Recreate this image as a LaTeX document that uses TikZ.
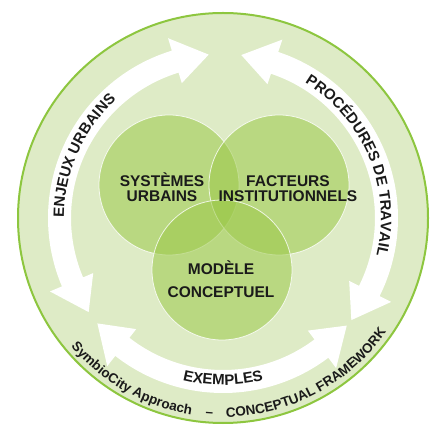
\documentclass[tikz,border=0pt]{standalone}
\usepackage{fontspec}
\setmainfont{Liberation Sans}
\usetikzlibrary{decorations.text}
\definecolor{ringfill}{HTML}{DEEBC6}
\definecolor{ringline}{HTML}{8DC63F}
\definecolor{venn}{HTML}{9CC94A}
\definecolor{ink}{HTML}{1A1A1A}
\tikzset{
  vennc/.style={circle, minimum size=140pt, inner sep=0pt, fill=venn, fill opacity=0.55,
    draw=white, draw opacity=0.8, line width=0.8pt},
  lbl/.style={anchor=base, text=ink, inner sep=0pt, font=\bfseries\fontsize{15.5}{15.5}\selectfont},
  bandtext/.style={decorate, decoration={text along path, text align=center, text={#1}}},
}
\newcommand{\ringarrow}[2]{%
  \fill[white] ({#1}:164pt) -- ({#1-12}:188pt) -- ({#1-12}:175pt)
    arc[start angle={#1-12}, end angle={#2+12}, radius=175pt]
    -- ({#2+12}:188pt) -- ({#2}:164pt) -- ({#2+12}:141pt) -- ({#2+12}:152pt)
    arc[start angle={#2+12}, end angle={#1-12}, radius=152pt]
    -- ({#1-12}:141pt) -- cycle;}
\newcommand{\outertext}[2]{%
  \path[bandtext={|\color{ink}\bfseries\fontsize{13.5}{13.5}\selectfont|#2}]
    ({#1-45}:199pt) arc[start angle={#1-45}, end angle={#1+45}, radius=199pt];}
\begin{document}
\begin{tikzpicture}[x=1pt,y=1pt]
\useasboundingbox (0,0) rectangle (433,428);
\begin{scope}[shift={(223,210)}]
  \node[circle, minimum size=410pt, inner sep=0pt, fill=ringfill, draw=ringline, line width=2pt] (ring) at (0,0) {};
  % arrows
  \ringarrow{215}{95}
  \ringarrow{83.6}{-38.5}
  \ringarrow{319}{220}
  % venn circles
  \node[vennc] (sys) at (-54,33) {};
  \node[vennc] (fac) at (56,33) {};
  \node[vennc] (mod) at (-1,-52) {};
  % labels
  \node[lbl] (sys1) at (-61,31) {SYSTÈMES};
  \node[lbl] (sys2) at (-61,16) {URBAINS};
  \node[lbl] (fac1) at (65,31) {FACTEURS};
  \node[lbl] (fac2) at (65,16) {INSTITUTIONNELS};
  \node[lbl] (mod1) at (-2,-57) {MODÈLE};
  \node[lbl] (mod2) at (-2,-80) {CONCEPTUEL};
  % text on arrows
  \path[bandtext={|\color{ink}\bfseries\fontsize{15}{15}\selectfont|ENJEUX URBAINS}]
    (200:159pt) arc[start angle=200, end angle=112, radius=159pt];
  \path[bandtext={|\color{ink}\bfseries\fontsize{15}{15}\selectfont|PROCÉDURES DE TRAVAIL}]
    (70:158pt) arc[start angle=70, end angle=-25, radius=158pt];
  \path[bandtext={|\color{ink}\bfseries\fontsize{15}{15}\selectfont|EXEMPLES}]
    (240:167pt) arc[start angle=240, end angle=300, radius=167pt];
  % outer caption
  \outertext{240.5}{SymbioCity Approach}
  \outertext{266}{–}
  \outertext{298}{CONCEPTUAL FRAMEWORK}
\end{scope}
\end{tikzpicture}
\end{document}
